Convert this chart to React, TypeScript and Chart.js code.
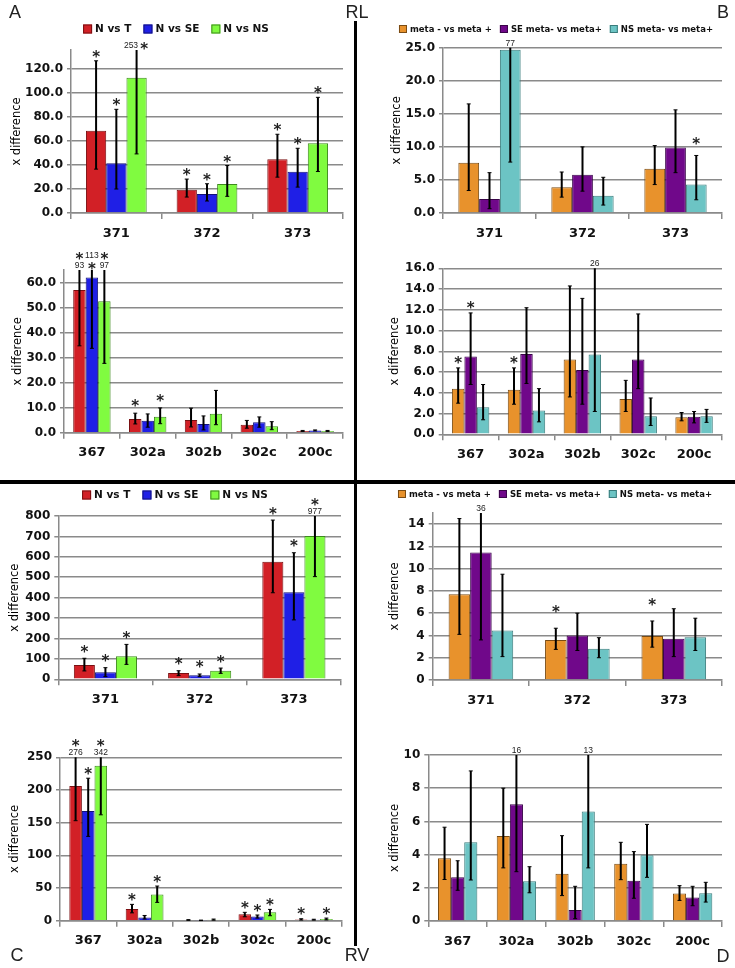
import React, { useEffect, useRef } from "react";
import { Chart, registerables } from "chart.js";
Chart.register(...registerables);

// ---------- categories / names ----------
const CATS3 = ["371", "372", "373"];
const CATS5 = ["367", "302a", "302b", "302c", "200c"];
const NAMES_N = ["N vs T", "N vs SE", "N vs NS"];
const NAMES_M = ["meta - vs meta +", "SE meta- vs meta+", "NS meta- vs meta+"];
const Y_TITLE = "x difference";

// ---------- A (RL, N comparisons, top) ----------
const A1_VAL = [[68.7, 19.4, 44.9], [41.6, 15.8, 34.4], [112.8, 24.1, 58.2]];
const A1_HI = [[127, 28.3, 65.7], [86.5, 24.4, 54], [253, 39.6, 96.5]];
const A1_LO = [[36.6, 13.3, 29.9], [20, 10, 21.6], [49.3, 13.9, 34.6]];
const A1_NOTE = [["*", "*", "*"], ["*", "*", "*"], ["# *", "*", "*"]];

// ---------- A (bottom) ----------
const A2_VAL = [[57, 5.5, 5.1, 3.2, 0.7], [62, 4.8, 3.5, 4.2, 0.9], [52.5, 6.4, 7.6, 2.6, 0.7]];
const A2_HI = [[93, 7.8, 9.8, 4.9, 0.9], [113, 7.5, 6.7, 6.3, 1.1], [97, 9.9, 16.9, 4.4, 0.9]];
const A2_LO = [[34.7, 3.5, 2.3, 1.8, 0.5], [33.7, 2.2, 1.1, 2.2, 0.7], [27.7, 3.6, 3.2, 1.2, 0.5]];
const A2_NOTE = [["*|#", "*", "", "", ""], ["#|*", "", "", "", ""], ["*|#", "*", "", "", ""]];

// ---------- B (RL, meta comparisons, top) ----------
const B1_VAL = [[7.6, 3.9, 6.7], [2.1, 5.8, 9.9], [24.7, 2.6, 4.3]];
const B1_HI = [[16.5, 6.2, 10.2], [6.1, 10, 15.6], [77, 5.4, 8.7]];
const B1_LO = [[3.4, 2.4, 4.3], [0.65, 3.3, 6.1], [7.7, 1.2, 2.0]];
const B1_NOTE = [["", "", ""], ["", "", ""], ["#", "", "*"]];

// ---------- B (bottom) ----------
const B2_VAL = [[4.4, 4.3, 7.2, 3.4, 1.65], [7.5, 7.75, 6.2, 7.2, 1.7], [2.6, 2.3, 7.7, 1.75, 1.75]];
const B2_HI = [[6.4, 6.4, 14.3, 5.2, 2.1], [11.7, 12.2, 13.1, 11.6, 2.2], [4.8, 4.4, 26, 3.5, 2.4]];
const B2_LO = [[3.0, 2.9, 3.6, 2.2, 1.3], [4.8, 4.9, 2.9, 4.4, 1.1], [1.4, 1.2, 2.2, 0.85, 1.15]];
const B2_NOTE = [["*", "*", "", "", ""], ["*", "", "", "", ""], ["", "", "#", "", ""]];

// ---------- C (RV, N comparisons, top) ----------
const C1_VAL = [[70, 31, 576], [34, 20, 426], [113, 42, 702]];
const C1_HI = [[103, 42, 780], [57, 26, 620], [171, 55, 977]];
const C1_LO = [[41, 18, 424], [13, 13, 291], [73, 29, 503]];
const C1_NOTE = [["*", "*", "*"], ["*", "*", "*"], ["*", "*", "*|#"]];

// ---------- C (bottom) ----------
const C2_VAL = [[206, 18, 1.0, 9.7, 2.0], [168, 5, 0.5, 6.6, 1.5], [237, 40, 1.6, 12.8, 2.6]];
const C2_HI = [[276, 25, 1.6, 12.8, 3.0], [218, 8, 0.9, 8.7, 2.2], [342, 53, 2.5, 17.3, 4.0]];
const C2_LO = [[153, 12, 0.5, 6.0, 1.0], [129, 2.6, 0.2, 4.0, 0.9], [162, 28, 0.8, 7.6, 1.2]];
const C2_NOTE = [["*|#", "*", "", "*", "*"], ["*", "", "", "*", ""], ["*|#", "*", "", "*", "*"]];

// ---------- D (RV, meta comparisons, top) ----------
const D1_VAL = [[7.7, 3.6, 3.95], [11.45, 4.0, 3.7], [4.45, 2.8, 3.85]];
const D1_HI = [[14.5, 4.65, 5.3], [36, 6.0, 6.4], [9.5, 3.8, 5.55]];
const D1_LO = [[4.1, 2.75, 2.95], [3.6, 2.65, 2.1], [2.1, 2.0, 2.65]];
const D1_NOTE = [["", "*", "*"], ["#", "", ""], ["", "", ""]];

// ---------- D (bottom) ----------
const D2_VAL = [[3.78, 5.12, 2.85, 3.45, 1.65], [2.63, 7.03, 0.66, 2.43, 1.41], [4.74, 2.39, 6.6, 3.96, 1.67]];
const D2_HI = [[5.65, 8.0, 5.14, 4.74, 2.13], [3.63, 16, 2.09, 4.18, 2.09], [9.04, 3.27, 13, 5.82, 2.33]];
const D2_LO = [[2.5, 3.2, 1.53, 2.49, 1.24], [1.85, 2.97, 0.14, 1.37, 0.92], [2.47, 1.7, 3.2, 2.63, 1.14]];
const D2_NOTE = [["", "", "", "", ""], ["", "#", "", "", ""], ["", "", "#", "", ""]];

// ---------- styles ----------
const FILL_N = ["#d22026", "#1f1fe6", "#80fb40"];
const EDGE_N = ["#7a1012", "#12127a", "#3e8a1e"];
const FILL_M = ["#e8922c", "#70088a", "#6cc4c4"];
const EDGE_M = ["#7a4c14", "#380448", "#3a7c7c"];
const GRID = "#8a8a8a";
const FONT = "DejaVu Sans";

type Legend = { cx: number; cy: number; font: string; box: number; gap: number; space: number };
type PanelDef = {
  id: string;
  cats: string[];
  names: string[];
  values: number[][];
  hi: number[][];
  lo: number[][];
  notes: string[][];
  fills: string[];
  edges: string[];
  max: number;
  step: number;
  dec: number;
  bounds: boolean;
  box: { x: number; y: number; w: number; h: number };
  plot: { left: number; top: number; right: number; zero: number };
  titleX: number;
  starGap: number;
  legend?: Legend;
};

const LEG_N = (cx: number, cy: number): Legend => ({ cx, cy, font: `bold 10.5px "${FONT}"`, box: 9, gap: 3, space: 12 });
const LEG_M = (cx: number, cy: number): Legend => ({ cx, cy, font: `bold 8.5px "${FONT}"`, box: 8, gap: 3, space: 8 });

const PANELS: PanelDef[] = [
  {
    id: "A1", cats: CATS3, names: NAMES_N, values: A1_VAL, hi: A1_HI, lo: A1_LO, notes: A1_NOTE,
    fills: FILL_N, edges: EDGE_N, max: 136, step: 20, dec: 1, bounds: false,
    box: { x: 0, y: 15, w: 355, h: 235 }, plot: { left: 71, top: 50, right: 343, zero: 213 },
    titleX: 17, starGap: 7, legend: LEG_N(176, 29),
  },
  {
    id: "A2", cats: CATS5, names: NAMES_N, values: A2_VAL, hi: A2_HI, lo: A2_LO, notes: A2_NOTE,
    fills: FILL_N, edges: EDGE_N, max: 65, step: 10, dec: 1, bounds: false,
    box: { x: 0, y: 245, w: 355, h: 225 }, plot: { left: 64, top: 270, right: 343, zero: 432.7 },
    titleX: 18, starGap: 10,
  },
  {
    id: "B1", cats: CATS3, names: NAMES_M, values: B1_VAL, hi: B1_HI, lo: B1_LO, notes: B1_NOTE,
    fills: FILL_M, edges: EDGE_M, max: 25, step: 5, dec: 1, bounds: true,
    box: { x: 360, y: 15, w: 375, h: 235 }, plot: { left: 443, top: 47.7, right: 722, zero: 213 },
    titleX: 397, starGap: 14, legend: LEG_M(556, 29),
  },
  {
    id: "B2", cats: CATS5, names: NAMES_M, values: B2_VAL, hi: B2_HI, lo: B2_LO, notes: B2_NOTE,
    fills: FILL_M, edges: EDGE_M, max: 16, step: 2, dec: 1, bounds: true,
    box: { x: 360, y: 245, w: 375, h: 225 }, plot: { left: 442.7, top: 268.3, right: 722, zero: 434.3 },
    titleX: 395, starGap: 7.5,
  },
  {
    id: "C1", cats: CATS3, names: NAMES_N, values: C1_VAL, hi: C1_HI, lo: C1_LO, notes: C1_NOTE,
    fills: FILL_N, edges: EDGE_N, max: 800, step: 100, dec: 0, bounds: true,
    box: { x: 0, y: 486, w: 355, h: 235 }, plot: { left: 58.3, top: 516, right: 341, zero: 679.3 },
    titleX: 15, starGap: 9.5, legend: LEG_N(175, 495),
  },
  {
    id: "C2", cats: CATS5, names: NAMES_N, values: C2_VAL, hi: C2_HI, lo: C2_LO, notes: C2_NOTE,
    fills: FILL_N, edges: EDGE_N, max: 250, step: 50, dec: 0, bounds: true,
    box: { x: 0, y: 725, w: 355, h: 240 }, plot: { left: 60, top: 757.3, right: 342, zero: 920.7 },
    titleX: 15, starGap: 7.5,
  },
  {
    id: "D1", cats: CATS3, names: NAMES_M, values: D1_VAL, hi: D1_HI, lo: D1_LO, notes: D1_NOTE,
    fills: FILL_M, edges: EDGE_M, max: 15, step: 2, dec: 0, bounds: false,
    box: { x: 360, y: 486, w: 375, h: 235 }, plot: { left: 432.7, top: 513, right: 722, zero: 680 },
    titleX: 395, starGap: 19, legend: LEG_M(555, 494),
  },
  {
    id: "D2", cats: CATS5, names: NAMES_M, values: D2_VAL, hi: D2_HI, lo: D2_LO, notes: D2_NOTE,
    fills: FILL_M, edges: EDGE_M, max: 10, step: 2, dec: 0, bounds: true,
    box: { x: 360, y: 725, w: 375, h: 240 }, plot: { left: 428.3, top: 755, right: 722, zero: 921 },
    titleX: 395, starGap: 7,
  },
];

const STAR_FONT = `bold 15px "${FONT}"`;
const NUM_FONT = `8.5px "Liberation Sans"`;

function drawStar(ctx: CanvasRenderingContext2D, x: number, cy: number) {
  ctx.font = STAR_FONT;
  ctx.textAlign = "center";
  ctx.textBaseline = "alphabetic";
  const m = ctx.measureText("*");
  const off = (m.actualBoundingBoxAscent - m.actualBoundingBoxDescent) / 2;
  ctx.fillText("*", x, cy + off);
}
function drawNum(ctx: CanvasRenderingContext2D, s: string, x: number, cy: number, align: CanvasTextAlign) {
  ctx.font = NUM_FONT;
  ctx.textAlign = align;
  ctx.textBaseline = "middle";
  ctx.fillText(s, x, cy);
}

function makeConfig(p: PanelDef): any {
  const titleSize = 11.5;
  const lh = titleSize * 1.2;
  const axisH = 30;
  const padTop = p.plot.top - p.box.y;
  const padRight = p.box.x + p.box.w - p.plot.right;
  const padBottom = p.box.y + p.box.h - (p.plot.zero + axisH);
  const yW = p.plot.left - p.box.x;
  const titlePad = p.titleX - p.box.x - lh / 2;

  const errPlugin = {
    id: "errbars" + p.id,
    afterDatasetsDraw(chart: any) {
      const ctx: CanvasRenderingContext2D = chart.ctx;
      const ys = chart.scales.y;
      const area = chart.chartArea;
      ctx.save();
      p.values.forEach((_, i) => {
        const meta = chart.getDatasetMeta(i);
        meta.data.forEach((bar: any, j: number) => {
          const x = bar.x;
          const hv = p.hi[i][j];
          const lv = p.lo[i][j];
          const clipped = hv > p.max;
          const yT = clipped ? area.top : ys.getPixelForValue(hv);
          const yB = ys.getPixelForValue(lv);
          ctx.strokeStyle = "#000";
          ctx.lineWidth = 2;
          ctx.beginPath();
          ctx.moveTo(x, yT);
          ctx.lineTo(x, yB);
          ctx.stroke();
          ctx.lineWidth = 1;
          ctx.beginPath();
          ctx.moveTo(x - 2, yB);
          ctx.lineTo(x + 2, yB);
          if (!clipped) {
            ctx.moveTo(x - 2, yT);
            ctx.lineTo(x + 2, yT);
          }
          ctx.stroke();
          const note = p.notes[i][j];
          if (!note) return;
          ctx.fillStyle = "#222";
          if (!clipped) {
            if (note.includes("*")) drawStar(ctx, x, yT - p.starGap);
            return;
          }
          const label = String(hv);
          const lines = note.split("|").reverse();
          lines.forEach((ln, k) => {
            const cy = area.top - 4.5 - k * 9.5;
            if (ln === "# *") {
              drawNum(ctx, label, x + 1.5, cy, "right");
              drawStar(ctx, x + 7.5, cy);
            } else if (ln === "#") {
              drawNum(ctx, label, x, cy, "center");
            } else if (ln === "*") {
              drawStar(ctx, x, cy);
            }
          });
        });
      });
      ctx.restore();
    },
  };

  const legendPlugin = {
    id: "legendrow" + p.id,
    afterDraw(chart: any) {
      const L = p.legend;
      if (!L) return;
      const ctx: CanvasRenderingContext2D = chart.ctx;
      ctx.save();
      ctx.font = L.font;
      const ds = chart.data.datasets;
      const widths = ds.map((d: any) => ctx.measureText(d.label).width);
      const total = widths.reduce((a: number, w: number) => a + L.box + L.gap + w, 0) + L.space * (ds.length - 1);
      let x = L.cx - p.box.x - total / 2;
      const cy = L.cy - p.box.y;
      ds.forEach((d: any, i: number) => {
        ctx.fillStyle = d.backgroundColor;
        ctx.fillRect(x, cy - L.box / 2, L.box, L.box);
        ctx.strokeStyle = d.borderColor;
        ctx.lineWidth = 1;
        ctx.strokeRect(x + 0.5, cy - L.box / 2 + 0.5, L.box - 1, L.box - 1);
        ctx.fillStyle = "#111";
        ctx.textAlign = "left";
        ctx.textBaseline = "middle";
        ctx.fillText(d.label, x + L.box + L.gap, cy + 0.5);
        x += L.box + L.gap + widths[i] + L.space;
      });
      ctx.restore();
    },
  };

  return {
    type: "bar",
    data: {
      labels: p.cats,
      datasets: p.names.map((n, i) => ({
        label: n,
        data: p.values[i],
        backgroundColor: p.fills[i],
        borderColor: p.edges[i],
        borderWidth: 1,
        categoryPercentage: 0.67,
        barPercentage: 1,
      })),
    },
    options: {
      animation: false,
      responsive: false,
      devicePixelRatio: 1,
      layout: { padding: { left: 0, top: padTop, right: padRight, bottom: padBottom } },
      plugins: { legend: { display: false }, tooltip: { enabled: false } },
      scales: {
        x: {
          offset: true,
          grid: { display: true, drawOnChartArea: false, drawTicks: true, tickLength: 6, color: GRID, lineWidth: 1.5, offset: true },
          border: { display: true, color: GRID, width: 1.5 },
          ticks: { font: { family: FONT, weight: "bold", size: 13 }, color: "#111", padding: 6.5, maxRotation: 0, autoSkip: false },
          afterFit: (s: any) => { s.height = axisH; },
        },
        y: {
          min: 0,
          max: p.max,
          grid: { color: GRID, lineWidth: 1.5, tickLength: 4, drawTicks: true },
          border: { display: true, color: GRID, width: 1.5 },
          ticks: {
            stepSize: p.step,
            includeBounds: p.bounds,
            autoSkip: false,
            font: { family: FONT, weight: "bold", size: 12 },
            color: "#111",
            padding: 4,
            callback: (v: any) => Number(v).toFixed(p.dec),
          },
          title: {
            display: true,
            text: Y_TITLE,
            font: { family: FONT, size: titleSize },
            color: "#000",
            padding: { top: titlePad, bottom: 0 },
          },
          afterFit: (s: any) => { s.width = yW; },
        },
      },
    },
    plugins: [errPlugin, legendPlugin],
  };
}

function PanelChart({ p }: { p: PanelDef }) {
  const ref = useRef<HTMLCanvasElement>(null);
  useEffect(() => {
    const chart = new Chart(ref.current as HTMLCanvasElement, makeConfig(p));
    return () => chart.destroy();
  }, [p]);
  return (
    <canvas
      ref={ref}
      width={p.box.w}
      height={p.box.h}
      style={{ position: "absolute", left: p.box.x, top: p.box.y, width: p.box.w, height: p.box.h }}
    />
  );
}

const CORNER_LABELS: { t: string; x: number; y: number }[] = [
  { t: "A", x: 15, y: 12 },
  { t: "RL", x: 357, y: 12 },
  { t: "B", x: 723, y: 12 },
  { t: "C", x: 17, y: 955 },
  { t: "RV", x: 357, y: 955 },
  { t: "D", x: 723, y: 956 },
];

export default function App() {
  return (
    <div style={{ position: "absolute", left: 0, top: 0, width: 735, height: 968, background: "#fff", overflow: "hidden" }}>
      {PANELS.map((p) => (
        <PanelChart key={p.id} p={p} />
      ))}
      <div style={{ position: "absolute", left: 0, top: 480, width: 735, height: 4, background: "#000" }} />
      <div style={{ position: "absolute", left: 354, top: 21, width: 3, height: 925, background: "#000" }} />
      {CORNER_LABELS.map((c) => (
        <div
          key={c.t}
          style={{
            position: "absolute",
            left: c.x,
            top: c.y,
            transform: "translate(-50%, -50%)",
            font: '18px "Liberation Sans"',
            color: "#222",
            lineHeight: 1,
            background: "#fff",
            padding: "0 1px",
          }}
        >
          {c.t}
        </div>
      ))}
    </div>
  );
}
